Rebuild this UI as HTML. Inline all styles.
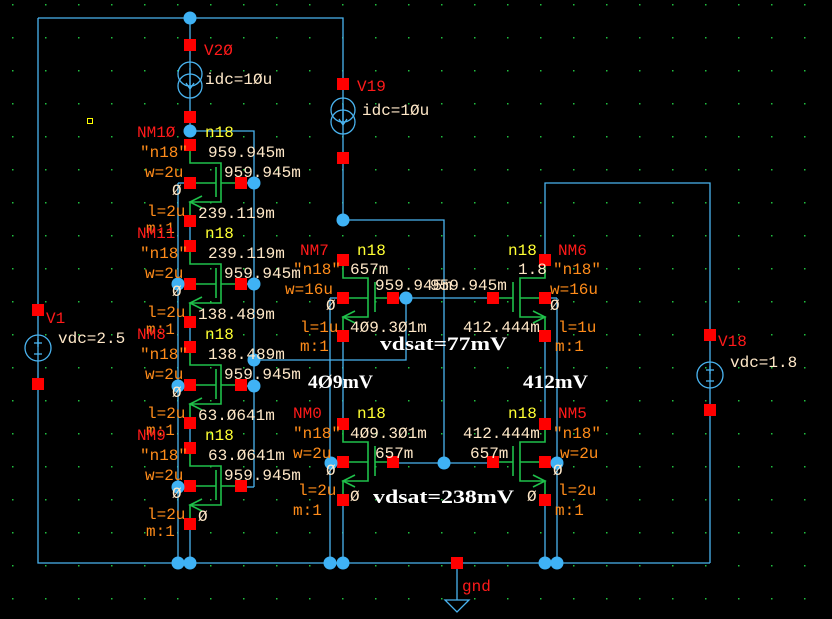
<!DOCTYPE html>
<html><head><meta charset="utf-8"><style>
html,body{margin:0;padding:0;background:#000;}
svg{display:block;}
text{font-family:"Liberation Mono",monospace;font-size:16px;}
.r{fill:#ff1a1a}.o{fill:#ff8c1a}.y{fill:#ffff33}.w{fill:#ffe8c8}
.b{font-family:"Liberation Serif",serif;font-weight:bold;font-size:19px;fill:#fff}
</style></head><body>
<svg id="s" width="832" height="619" xmlns="http://www.w3.org/2000/svg">
<defs><pattern id="g" x="12" y="4" width="33" height="33" patternUnits="userSpaceOnUse"><rect width="1.5" height="1.5" fill="#1fbf3f"/></pattern></defs>
<rect width="832" height="619" fill="#000"/>
<rect width="832" height="619" fill="url(#g)"/>
<g id="wires" stroke="#4ab4f0" stroke-width="1.3" fill="none"></g>
<g id="green" stroke="#1fc04a" stroke-width="1.6" fill="none"></g>
<g id="sq" fill="#ff0000"></g>
<g id="dots" fill="#3fb2f5"></g>
<g id="txt"></g>
</svg>
<script>
const NS="http://www.w3.org/2000/svg";
function el(g,tag,a,t){const e=document.createElementNS(NS,tag);for(const k in a)e.setAttribute(k,a[k]);if(t!==undefined)e.textContent=t;document.getElementById(g).appendChild(e);return e;}
function W(pts){el('wires','polyline',{points:pts});}
function G(pts){el('green','polyline',{points:pts});}
function S(x,y){el('sq','rect',{x:x-6,y:y-6,width:12,height:12});}
function D(x,y){el('dots','circle',{cx:x,cy:y,r:6.5});}
function T(x,y,c,t,len){const a={x:x,y:y,class:c};if(len){a.textLength=len;a.lengthAdjust="spacingAndGlyphs";}el('txt','text',a,t);}
W("38,18 343,18 343,220");
W("38,18 38,563 710,563");
W("190,18 190,131 254,131 254,487");
W("178,183 178,563");W("190,523 190,563");
W("343,220 444,220 444,463");
W("330,298 330,563");W("343,500 343,563");
W("343,335 343,424");W("545,335 545,424");
W("545,500 545,563");W("557,298 557,563");
W("545,260 545,183 710,183 710,563");
W("254,360 406,360 406,298 493,298");
W("393,298 406,298");W("393,463 493,463");
W("330,298 343,298");W("330,463 343,463");W("545,298 557,298");W("545,463 557,463");
W("457,563 457,600");
W("178,183 190,183");W("178,284 190,284");W("178,386 190,386");W("178,487 190,487");
W("241,183 254,183");W("241,284 254,284");W("241,386 254,386");W("241,487 254,487");
W("190,220 190,246");W("190,321 190,347");W("190,422 190,448");
el('wires','polygon',{points:"445,600 469,600 457,612"});
function isrc(x,cy){el('wires','circle',{cx:x,cy:cy-6,r:12});el('wires','circle',{cx:x,cy:cy+6,r:12});W(x+","+(cy-12)+" "+x+","+(cy+8));W((x-4)+","+(cy+3)+" "+x+","+(cy+9)+" "+(x+4)+","+(cy+3));}
isrc(190,80);isrc(343,116);
function vsrc(x,cy){el('wires','circle',{cx:x,cy:cy,r:13});W((x-4)+","+(cy-5)+" "+(x+4)+","+(cy-5));W(x+","+(cy-9)+" "+x+","+(cy-1));W((x-4)+","+(cy+6)+" "+(x+4)+","+(cy+6));}
vsrc(38,348);vsrc(710,375);
function TR(px,d,s,chan,plate,far,plateNear){
 const c=px+s*chan,p=px+s*plate,f=px+s*far;
 G(px+","+(d+6)+" "+px+","+(d+18)+" "+c+","+(d+18)+" "+c+","+(d+57)+" "+px+","+(d+57)+" "+px+","+(d+70));
 G(p+","+(d+22)+" "+p+","+(d+52));
 if(plateNear){G(px+","+(d+38)+" "+p+","+(d+38));G(c+","+(d+38)+" "+f+","+(d+38));}
 else{G(px+","+(d+38)+" "+c+","+(d+38));G(p+","+(d+38)+" "+f+","+(d+38));}
 G((px+s*12)+","+(d+51)+" "+px+","+(d+57)+" "+(px+s*12)+","+(d+63));
 S(px,d);S(px,d+38);S(px,d+76);S(f,d+38);
}
for(let i=0;i<4;i++)TR(190,145+101*i,1,31,26,51,true);
TR(343,260,1,25,32,50,false);TR(545,260,-1,25,32,52,false);
TR(343,424,1,25,32,50,false);TR(545,424,-1,25,32,52,false);
S(190,45);S(190,117);S(343,84);S(343,158);S(38,310);S(38,384);S(710,335);S(710,410);S(457,563);
[[190,18],[190,131],[343,220],[254,183],[254,284],[254,360],[254,386],[178,284],[178,386],[178,487],
[406,298],[331,463],[444,463],[557,463],
[178,563],[190,563],[330,563],[343,563],[545,563],[557,563]].forEach(p=>D(p[0],p[1]));
T(204,55,'r','V2Ø');T(205,84,'w','idc=1Øu');
T(357,91,'r','V19');T(362,115,'w','idc=1Øu');
T(46,323,'r','V1');T(58,343,'w','vdc=2.5');
T(718,346,'r','V18');T(730,367,'w','vdc=1.8');
T(462,591,'r','gnd');
const L=[["NM1Ø","959.945m","959.945m","239.119m"],["NM11","239.119m","959.945m","138.489m"],["NM8","138.489m","959.945m","63.Ø641m"],["NM9","63.Ø641m","959.945m","Ø"]];
L.forEach((l,i)=>{const y=131+101*i;
 T(137,y+6,'r',l[0]);T(205,y+6,'y','n18');T(140,y+26,'o','"n18"');T(208,y+26,'w',l[1]);
 T(145,y+46,'o','w=2u');T(224,y+46,'w',l[2]);T(172,y+64,'w','Ø');T(147,y+85,'o','l=2u');
 T(198,y+87,'w',l[3]);T(146,y+102,'o','m:1');});
T(300,255,'r','NM7');T(357,255,'y','n18');T(293,274,'o','"n18"');T(350,274,'w','657m');
T(285,294,'o','w=16u');T(375,290,'w','959.945m');T(430,290,'w','959.945m');T(326,310,'w','Ø');
T(300,332,'o','l=1u');T(350,332,'w','4Ø9.3Ø1m');T(300,351,'o','m:1');
T(380,350,'b','vdsat=77mV',127);
T(508,255,'y','n18');T(558,255,'r','NM6');T(518,274,'w','1.8');T(553,274,'o','"n18"');
T(550,294,'o','w=16u');T(550,310,'w','Ø');T(558,332,'o','l=1u');T(463,332,'w','412.444m');T(555,351,'o','m:1');
T(308,388,'b','4Ø9mV',65);T(523,388,'b','412mV',65);
T(293,418,'r','NM0');T(357,418,'y','n18');T(293,438,'o','"n18"');T(350,438,'w','4Ø9.3Ø1m');
T(293,458,'o','w=2u');T(375,458,'w','657m');T(326,475,'w','Ø');T(298,495,'o','l=2u');T(350,501,'w','Ø');T(293,515,'o','m:1');
T(373,503,'b','vdsat=238mV',141);
T(508,418,'y','n18');T(558,418,'r','NM5');T(463,438,'w','412.444m');T(553,438,'o','"n18"');
T(470,458,'w','657m');T(560,458,'o','w=2u');T(553,475,'w','Ø');T(527,501,'w','Ø');T(558,495,'o','l=2u');T(555,515,'o','m:1');
</script>
<div style="position:absolute;left:87px;top:118px;width:4px;height:4px;border:1px solid #ff0"></div>
</body></html>
